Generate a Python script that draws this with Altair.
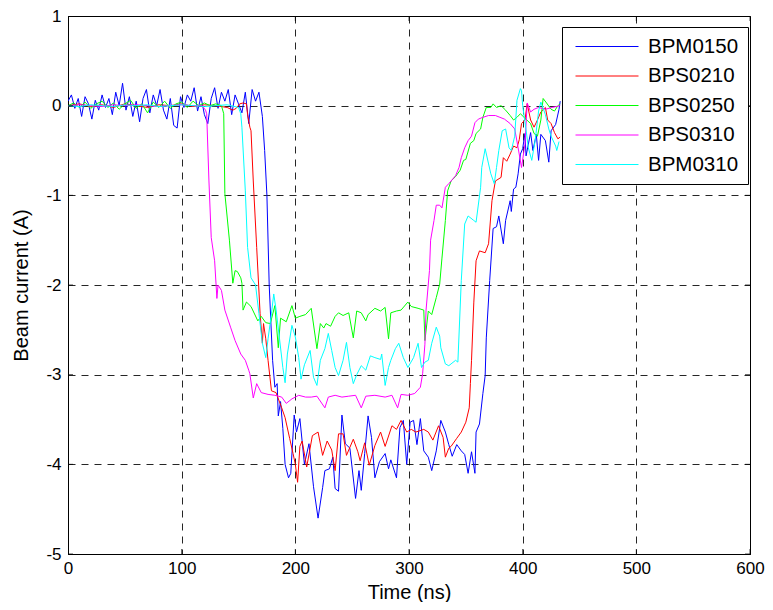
import altair as alt
import pandas as pd

FONT = "Liberation Sans"
SERIES = ["BPM0150", "BPS0210", "BPS0250", "BPS0310", "BPM0310"]
COLORS = ["#0000ff", "#ff0000", "#00ff00", "#ff00ff", "#00ffff"]
X_TICKS = [0, 100, 200, 300, 400, 500, 600]
Y_TICKS = [-5, -4, -3, -2, -1, 0, 1]

# (time ns, current A)
bpm0150 = [(0,0.05),(3,0.12),(6,-0.03),(9,0.08),(12,-0.12),(15,0.1),(18,0.02),(21,-0.15),(24,0.06),(27,-0.05),
           (30,0.12),(33,-0.02),(36,0.08),(39,-0.1),(42,0.15),(45,0.0),(48,0.25),(51,-0.05),(54,0.1),(57,-0.12),
           (60,0.05),(63,-0.18),(66,0.08),(69,0.18),(72,-0.08),(75,0.12),(78,0.0),(81,0.18),(84,-0.05),(87,-0.15),
           (90,0.08),(93,-0.22),(96,-0.25),(99,0.1),(102,-0.02),(105,0.12),(108,0.05),(111,0.2),(114,-0.06),(117,0.1),
           (120,-0.1),(123,-0.2),(126,0.08),(129,0.2),(132,-0.03),(135,0.15),(138,0.05),(141,0.18),(144,-0.1),(147,0.12),
           (150,0.02),(153,-0.08),(156,0.15),(159,-0.2),(162,0.18),(165,0.05),(168,0.15),
           (171,-0.12),(173,-0.5),(175,-1.0),(177,-2.0),(180,-2.84),(182,-3.14),(184,-3.1),(185,-3.46),(187,-3.3),
           (189,-3.6),(191,-4.0),(194,-4.15),(196,-4.1),(199,-3.45),(201,-3.64),(204,-3.49),(208,-4.0),(212,-3.77),
           (216,-4.25),(220,-4.6),(224,-4.26),(226,-4.07),(230,-4.05),(233,-3.92),(235,-4.27),(238,-4.3),(241,-3.45),
           (244,-3.77),(248,-3.82),(253,-4.38),(256,-4.07),(258,-4.29),(261,-3.88),(264,-3.46),(267,-3.7),(270,-4.15),
           (274,-3.97),(279,-3.88),(282,-4.05),(284,-3.95),(289,-4.15),(292,-3.59),(295,-3.51),(298,-4.0),(301,-3.53),
           (304,-3.51),(307,-3.78),(310,-3.49),(313,-3.85),(317,-3.92),(320,-4.07),(324,-3.85),(328,-3.51),(332,-3.64),
           (335,-3.78),(338,-3.91),(342,-3.78),(346,-3.85),(349,-3.89),(352,-4.1),(355,-3.86),(358,-4.1),(359,-3.64),
           (362,-3.55),(365,-3.21),(367,-3.01),(368,-2.59),(371,-1.95),(374,-1.37),(377,-1.35),(379,-1.23),(383,-1.54),
           (385,-1.28),(389,-1.06),(390,-1.18),(392,-0.93),(394,-0.91),(396,-0.76),(398,-0.54),(400,-0.48),(402,-0.31),
           (403,-0.56),(407,-0.3),(409,-0.5),(412,-0.32),(414,-0.61),(416,-0.32),(420,-0.39),(423,-0.63),(425,-0.28),
           (429,-0.21),(432,-0.04),(433,0.05)]

bps0210 = [(0,0.0),(10,0.02),(20,-0.01),(30,0.01),(40,-0.02),(50,0.02),(60,0.0),(70,-0.02),(80,0.01),(90,0.0),
           (100,0.02),(110,-0.01),(120,0.01),(130,0.0),(140,-0.02),(145,-0.05),(148,-0.03),(151,0.02),(154,0.03),
           (157,0.02),(158,-0.1),(160,-0.24),(161,-0.28),(163,-0.84),(166,-1.58),(169,-2.32),(171,-2.65),(172,-2.43),
           (174,-2.6),(176,-2.84),(179,-3.18),(183,-3.2),(188,-3.37),(191,-3.48),(195,-3.71),(198,-3.88),(200,-4.0),
           (202,-4.2),(204,-3.8),(206,-3.74),(210,-4.03),(215,-3.68),(220,-3.64),(224,-3.9),(228,-3.74),(232,-3.84),
           (235,-4.07),(238,-3.66),(242,-3.66),(245,-3.9),(251,-3.72),(255,-3.86),(257,-3.96),(261,-3.76),(265,-4.01),
           (270,-3.79),(275,-3.64),(279,-3.8),(285,-3.57),(289,-3.61),(293,-3.51),(298,-3.64),(302,-3.61),(306,-3.64),
           (313,-3.61),(317,-3.64),(321,-3.73),(326,-3.57),(330,-3.7),(332,-3.92),(335,-3.82),(337,-3.8),(342,-3.71),
           (346,-3.64),(350,-3.53),(353,-3.37),(354,-3.1),(355,-2.84),(357,-2.2),(359,-1.73),(362,-1.62),(367,-1.64),
           (370,-1.54),(373,-1.06),(376,-0.84),(381,-0.8),(383,-0.58),(386,-0.62),(389,-0.54),(392,-0.45),(395,-0.47),
           (397,-0.38),(399,-0.2),(402,-0.16),(404,0.02),(407,-0.16),(410,-0.24),(413,-0.16),(416,-0.07),(420,-0.02),
           (422,-0.16),(425,-0.2),(428,-0.3),(431,-0.37),(433,-0.35)]

bps0250 = [(0,0.0),(5,0.03),(10,-0.02),(15,0.04),(20,-0.03),(25,0.02),(30,0.05),(35,-0.02),(40,0.03),(45,-0.04),
           (50,0.02),(55,0.06),(60,-0.03),(65,0.02),(70,-0.08),(75,0.04),(80,-0.02),(85,0.05),(90,-0.03),(95,0.02),
           (100,0.04),(105,-0.02),(110,0.05),(115,0.0),(120,0.03),(125,0.0),(130,0.02),(135,0.0),(137,-0.09),
           (138,-0.98),(142,-1.5),(145,-1.98),(147,-1.84),(149,-1.85),(152,-1.92),(153,-1.98),(154,-2.28),(157,-2.19),
           (161,-2.24),(167,-2.4),(170,-2.35),(174,-2.42),(178,-2.43),(182,-2.23),(185,-2.7),(187,-2.37),(192,-2.41),
           (197,-2.23),(200,-2.37),(204,-2.35),(209,-2.33),(214,-2.26),(219,-2.71),(222,-2.43),(225,-2.48),(227,-2.43),
           (231,-2.46),(235,-2.35),(238,-2.31),(242,-2.34),(247,-2.31),(251,-2.59),(254,-2.29),(258,-2.31),(262,-2.4),
           (264,-2.33),(270,-2.26),(275,-2.29),(279,-2.25),(282,-2.6),(284,-2.31),(289,-2.29),(293,-2.28),(299,-2.19),
           (302,-2.24),(308,-2.26),(313,-2.28),(314,-2.62),(317,-2.29),(320,-2.33),(324,-2.14),(327,-1.99),(329,-1.7),
           (332,-1.28),(334,-0.95),(337,-0.84),(341,-0.79),(345,-0.72),(348,-0.61),(350,-0.6),(354,-0.42),(357,-0.39),
           (359,-0.31),(363,-0.26),(365,-0.13),(368,-0.02),(372,-0.02),(374,0.02),(377,-0.02),(381,0.0),(385,-0.05),
           (389,-0.11),(392,-0.16),(395,-0.13),(398,-0.09),(402,-0.14),(407,-0.2),(410,-0.31),(413,-0.34),(416,-0.16),
           (418,0.08),(421,0.03),(425,-0.04),(428,-0.06),(431,0.0),(433,0.02)]

bps0310 = [(0,0.0),(10,0.01),(20,0.0),(30,-0.01),(40,0.01),(50,0.0),(60,0.01),(70,0.0),(80,-0.01),(90,0.0),
           (100,0.01),(110,0.0),(118,0.0),(121,-0.05),(122,-0.09),(124,-0.84),(126,-1.47),(129,-1.73),(131,-2.15),
           (132,-2.0),(135,-2.06),(138,-2.28),(143,-2.47),(147,-2.62),(152,-2.77),(156,-2.84),(159,-2.95),(160,-2.99),
           (163,-3.26),(166,-3.1),(170,-3.2),(176,-3.22),(182,-3.23),(188,-3.25),(192,-3.32),(197,-3.27),(203,-3.23),
           (209,-3.25),(214,-3.25),(219,-3.24),(226,-3.37),(229,-3.25),(235,-3.23),(241,-3.25),(247,-3.24),(253,-3.23),
           (258,-3.37),(262,-3.24),(270,-3.23),(279,-3.25),(285,-3.23),(290,-3.37),(293,-3.22),(299,-3.23),(305,-3.21),
           (310,-3.14),(312,-2.99),(314,-2.66),(315,-2.28),(318,-1.84),(319,-1.5),(322,-1.28),(324,-1.11),(327,-1.11),
           (329,-1.14),(332,-0.91),(335,-0.87),(337,-0.84),(341,-0.78),(344,-0.69),(346,-0.58),(349,-0.47),(352,-0.39),
           (355,-0.34),(358,-0.19),(361,-0.15),(365,-0.13),(370,-0.11),(376,-0.11),(380,-0.13),(384,-0.15),(389,-0.2),
           (393,-0.26),(396,-0.47),(399,-0.69),(402,-0.43),(404,0.03),(407,-0.07),(410,-0.04),(414,-0.02),(420,-0.04),
           (426,-0.02),(433,0.0)]

bpm0310 = [(0,0.0),(10,-0.01),(20,0.01),(30,0.0),(40,-0.01),(50,0.01),(60,0.0),(70,0.01),(80,-0.01),(90,0.0),
           (100,0.01),(110,0.0),(120,-0.01),(130,0.0),(140,0.01),(150,-0.02),(152,-0.09),(153,-0.24),(156,-0.95),
           (158,-1.58),(161,-1.92),(165,-2.0),(168,-2.32),(171,-2.65),(174,-2.81),(176,-2.6),(179,-2.32),(181,-2.1),
           (183,-2.27),(186,-2.59),(189,-2.92),(191,-3.09),(193,-2.77),(197,-2.45),(200,-2.58),(203,-2.81),(205,-3.05),
           (208,-2.89),(213,-2.73),(216,-3.03),(219,-3.12),(222,-2.84),(226,-2.71),(229,-2.54),(232,-2.73),(235,-2.92),
           (238,-3.01),(242,-2.84),(245,-2.64),(248,-2.92),(251,-3.1),(254,-3.0),(258,-2.9),(262,-2.95),(266,-2.79),
           (270,-2.81),(275,-2.83),(276,-2.77),(279,-3.12),(282,-2.92),(284,-2.84),(288,-2.71),(291,-2.65),(295,-2.81),
           (299,-2.92),(304,-2.81),(308,-2.65),(311,-2.92),(314,-2.86),(317,-2.84),(320,-2.65),(324,-2.47),(327,-2.57),
           (328,-2.7),(332,-2.88),(335,-2.9),(337,-2.88),(341,-2.84),(343,-2.86),(346,-1.95),(349,-1.32),(352,-1.23),
           (357,-1.28),(359,-1.3),(363,-0.91),(364,-0.69),(367,-0.48),(370,-0.65),(372,-0.76),(375,-0.87),(377,-0.69),
           (379,-0.5),(382,-0.28),(385,-0.26),(388,-0.47),(390,-0.5),(393,-0.34),(395,0.06),(398,0.19),(399,0.17),
           (400,0.0),(403,-0.27),(405,-0.47),(408,-0.61),(411,-0.39),(414,-0.06),(416,0.04),(420,-0.1),(423,-0.26),
           (425,-0.34),(429,-0.45),(430,-0.5),(432,-0.4)]

rows = []
for name, pts in zip(SERIES, [bpm0150, bps0210, bps0250, bps0310, bpm0310]):
    for t, v in pts:
        rows.append({"t": t, "v": v, "series": name})
df = pd.DataFrame(rows)

x_scale = alt.Scale(domain=[0, 600], nice=False, zero=False)
y_scale = alt.Scale(domain=[-5, 1], nice=False, zero=False)

x_axis = alt.Axis(values=X_TICKS, title="Time (ns)", grid=True, gridDash=[7, 6], gridColor="#000000",
                  gridOpacity=0.85, tickSize=0, labelPadding=6, titlePadding=6, labelFlush=False,
                  labelExpr="'' + datum.value")
y_axis = alt.Axis(values=Y_TICKS, title="Beam current (A)", grid=True, gridDash=[7, 6], gridColor="#000000",
                  gridOpacity=0.85, tickSize=0, labelPadding=7, titlePadding=14, labelFlush=False,
                  labelExpr="'' + datum.value")

lines = alt.Chart(df).mark_line(strokeWidth=1, clip=True).encode(
    x=alt.X("t:Q", scale=x_scale, axis=x_axis, title="Time (ns)"),
    y=alt.Y("v:Q", scale=y_scale, axis=y_axis, title="Beam current (A)"),
    color=alt.Color("series:N", sort=SERIES,
                    scale=alt.Scale(domain=SERIES, range=COLORS),
                    legend=alt.Legend(title=None, orient="none", legendX=494, legendY=11,
                                      symbolType="stroke", symbolSize=3969, symbolStrokeWidth=1,
                                      symbolOffset=4, clipHeight=21,
                                      labelFontSize=20.5, labelFont=FONT, labelColor="black",
                                      rowPadding=8.5, padding=9, labelOffset=9,
                                      strokeColor="black", fillColor="white", cornerRadius=0)),
)

xt = pd.DataFrame({"t": X_TICKS})
yt = pd.DataFrame({"v": Y_TICKS})
tick_style = dict(size=10, thickness=1, color="black", clip=True)
tb = alt.Chart(xt).mark_tick(orient="vertical", **tick_style).encode(
    x=alt.X("t:Q", scale=x_scale, title="Time (ns)"), y=alt.datum(-5))
tt = alt.Chart(xt).mark_tick(orient="vertical", **tick_style).encode(
    x=alt.X("t:Q", scale=x_scale, title="Time (ns)"), y=alt.datum(1))
tl = alt.Chart(yt).mark_tick(orient="horizontal", **tick_style).encode(
    y=alt.Y("v:Q", scale=y_scale, title="Beam current (A)"), x=alt.datum(0))
tr = alt.Chart(yt).mark_tick(orient="horizontal", **tick_style).encode(
    y=alt.Y("v:Q", scale=y_scale, title="Beam current (A)"), x=alt.datum(600))

chart = alt.layer(lines, tb, tt, tl, tr).properties(
    width=682, height=538,
    autosize=alt.AutoSizeParams(type="none"),
    padding={"left": 60, "top": 8, "right": 15, "bottom": 48},
    background="white",
).configure_view(stroke="black", strokeWidth=1).configure_axis(
    labelFont=FONT, titleFont=FONT, labelFontSize=17, titleFontSize=20, titleFontWeight="normal",
    labelColor="black", titleColor="black", domainColor="black", domainWidth=1,
)

chart.save("out.html", embed_options={"renderer": "svg", "actions": False})
